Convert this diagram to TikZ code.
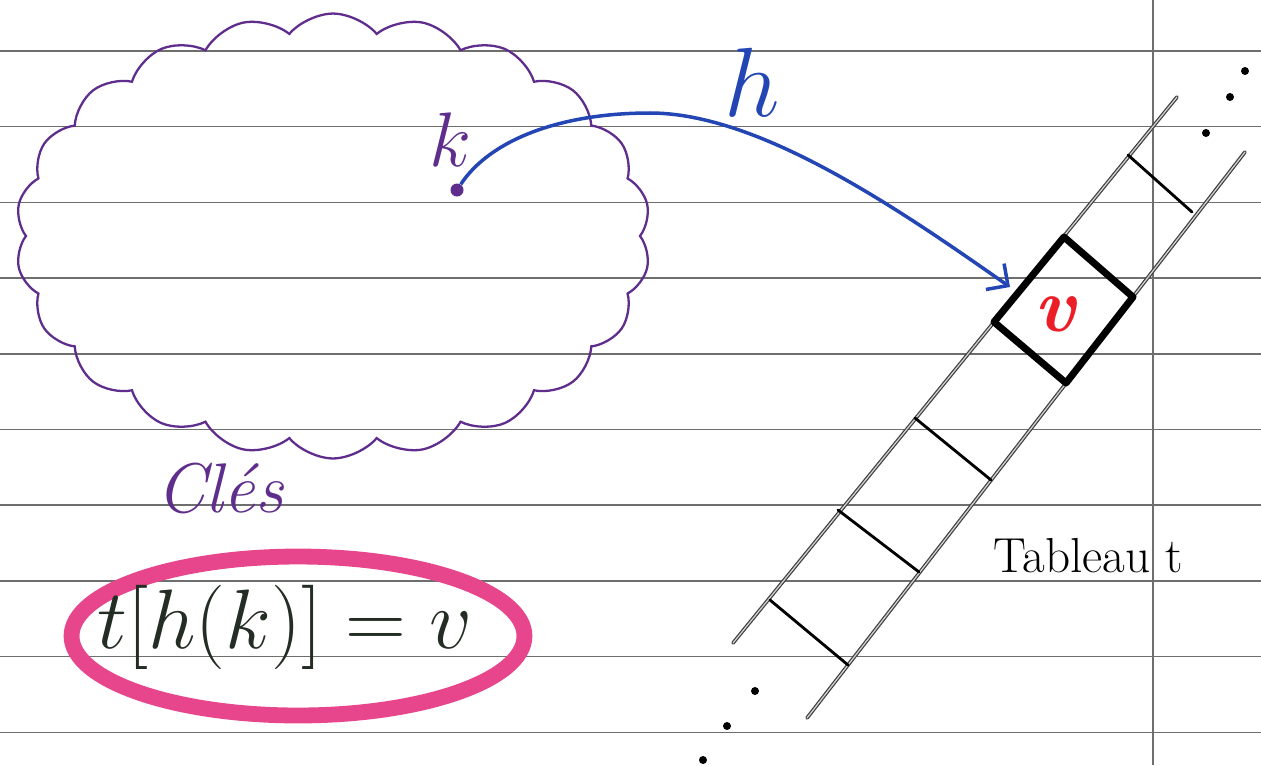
\RequirePackage{fix-cm}
\documentclass[tikz,border=0pt]{standalone}
\usepackage{xcolor}
\usepackage{tikz}
\usetikzlibrary{arrows.meta,positioning,shapes.symbols,shapes.geometric}

\definecolor{penpurple}{RGB}{95,45,140}
\definecolor{penblue}{RGB}{35,70,180}
\definecolor{penred}{RGB}{235,30,40}
\definecolor{penpink}{RGB}{232,70,140}
\definecolor{pengreen}{RGB}{35,45,35}
\definecolor{ruling}{RGB}{110,110,110}

\tikzset{
    rule/.style={ruling, line width=0.9pt},
    rail/.style={draw=gray!50!black, line width=0.7pt, double=gray!35, double distance=0.7pt, line cap=round},
    rung/.style={black, line width=1.6pt, line cap=round},
    slot/.style={black, line width=4pt, line join=round},
}

\begin{document}
\begin{tikzpicture}[x=0.02cm, y=-0.02cm]
    \useasboundingbox (0,0) rectangle (1261,765);
    \fill[white] (0,0) rectangle (1261,765);
    % Lined paper
    \foreach \i in {0,...,9}
        \draw[rule] (0,51+75.7*\i) -- (1261,51+75.7*\i);
    \draw[rule] (1153,0) -- (1153,765);
    % Key cloud
    \node[cloud, draw=penpurple, line width=1.3pt, cloud puffs=22, cloud puff arc=100,
          aspect=1.45, minimum width=12.7cm, minimum height=8.9cm] (keys) at (333,236) {};
    \node[penpurple, font=\fontsize{40}{44}\selectfont\itshape] (keyslabel) at (220,488) {Clés};
    % Key k
    \node[circle, fill=penpurple, inner sep=0pt, minimum size=0.26cm] (key) at (457,190) {};
    \node[penpurple, font=\fontsize{44}{48}\selectfont] (klabel) at (450,140) {$k$};
    % Array t
    \coordinate (railA1) at (733,643);
    \coordinate (railA2) at (1177,97);
    \coordinate (railB1) at (807,718);
    \coordinate (railB2) at (1245,152);
    \draw[rail] (railA1) -- (railA2);
    \draw[rail] (railB1) -- (railB2);
    \foreach \lx/\ly/\rx/\ry [count=\n] in {770/600/848/665, 838/510/919/572, 915/418/991/480,
                                             994/322/1066/383, 1064/237/1133/297, 1128/155/1192/212} {
        \coordinate (l\n) at (\lx,\ly);
        \coordinate (r\n) at (\rx,\ry);
    }
    \foreach \n in {1,2,3,6}
        \draw[rung] (l\n) -- (r\n);
    \draw[slot] (l4) -- (l5) -- (r5) -- (r4) -- cycle;
    \node[penred, font=\fontsize{44}{48}\selectfont\bfseries\itshape] (val) at (1055,314) {v};
    % Dots
    \foreach \p in {(755,691),(727,726),(703,760),(1206,133),(1230,97),(1245,71)}
        \fill \p circle (4);
    \node[font=\fontsize{28}{32}\selectfont] (tablabel) at (1088,556) {Tableau t};
    % Hash function h
    \coordinate (tip) at (1010,287);
    \draw[penblue, line width=2pt, -{Straight Barb[length=9pt, width=18pt]}]
        (key) .. controls (490,140) and (560,113) .. (650,113)
              .. controls (760,113) and (900,210) .. (tip);
    \node[penblue, font=\fontsize{56}{60}\selectfont] (hlabel) at (752,82) {$h$};
    % Formula
    \node[ellipse, draw=penpink, line width=9pt, minimum width=9.06cm, minimum height=3.18cm] (marker) at (298,636) {};
    \node[pengreen, font=\fontsize{48}{52}\selectfont] (formula) at (285,627) {$t[h(k)] = v$};
\end{tikzpicture}
\end{document}
